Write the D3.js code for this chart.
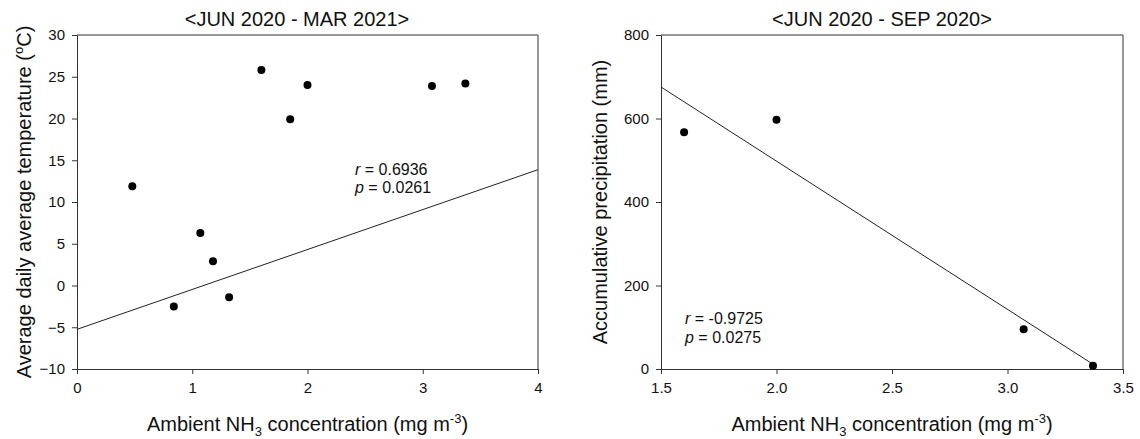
<!DOCTYPE html>
<html>
<head>
<meta charset="utf-8">
<script src="https://cdn.jsdelivr.net/npm/d3@7"></script>
<style>
  body { margin: 0; background: #fff; }
  text { font-family: "Liberation Sans", Arial, sans-serif; fill: #111; }
</style>
</head>
<body>
<script>
// left panel: NH3 vs temperature, JUN 2020 - MAR 2021
var nh3Temp = [0.48, 0.84, 1.07, 1.18, 1.32, 1.60, 1.85, 2.00, 3.08, 3.37];
var tempVals = [11.9, -2.5, 6.3, 2.9, -1.4, 25.8, 19.9, 24.0, 23.9, 24.2];
var fitTemp = [-5.25, 4.78]; // intercept, slope as drawn
var tempXTicks = [0, 1, 2, 3, 4];
var tempYTicks = [-10, -5, 0, 5, 10, 15, 20, 25, 30];

// right panel: NH3 vs precipitation, JUN 2020 - SEP 2020
var nh3Rain = [1.60, 2.00, 3.07, 3.37];
var rainVals = [567, 597, 95, 8];
var rainXTicks = [1.5, 2.0, 2.5, 3.0, 3.5];
var rainYTicks = [0, 200, 400, 600, 800];

var W = 1140, H = 439;
var svg = d3.select("body").append("svg")
    .attr("width", W)
    .attr("height", H);

function panel(opt) {
  var x = d3.scaleLinear().domain(opt.xDomain).range([opt.left, opt.right]);
  var y = d3.scaleLinear().domain(opt.yDomain).range([369, 35]);
  var g = svg.append("g");

  var xa = g.append("g").attr("transform", "translate(0,369)")
      .call(d3.axisBottom(x).tickValues(opt.xTicks).tickSize(5).tickPadding(8).tickFormat(opt.xFmt));
  var ya = g.append("g").attr("transform", "translate(" + opt.left + ",0)")
      .call(d3.axisLeft(y).tickValues(opt.yTicks).tickSize(5).tickPadding(7).tickFormat(d3.format("d")));
  [xa, ya].forEach(function(a) {
    a.select(".domain").attr("stroke", "#333");
    a.selectAll(".tick line").attr("stroke", "#333");
    a.selectAll("text").style("font-size", "15px").attr("fill", "#111");
  });

  // top and right frame
  g.append("path")
    .attr("d", "M" + opt.left + ",35H" + opt.right + "V369")
    .attr("fill", "none").attr("stroke", "#333");

  // fit line
  var x0 = opt.lineX[0], x1 = opt.lineX[1];
  g.append("line")
    .attr("x1", x(x0)).attr("y1", y(opt.fit[0] + opt.fit[1] * x0))
    .attr("x2", x(x1)).attr("y2", y(opt.fit[0] + opt.fit[1] * x1))
    .attr("stroke", "#222").attr("stroke-width", 1);

  g.selectAll("circle.pt").data(opt.xs).enter().append("circle")
    .attr("cx", function(d) { return x(d); })
    .attr("cy", function(d, i) { return y(opt.ys[i]); })
    .attr("r", 4)
    .attr("fill", "#000");

  // title
  g.append("text").attr("x", opt.titleX).attr("y", 26)
    .attr("text-anchor", "middle").style("font-size", "20px").text(opt.title);

  // x label
  var xl = g.append("text").attr("x", (opt.left + opt.right) / 2).attr("y", 431)
    .attr("text-anchor", "middle").style("font-size", "20px");
  xl.append("tspan").text("Ambient NH");
  xl.append("tspan").attr("dy", 5).style("font-size", "13px").text("3");
  xl.append("tspan").attr("dy", -5).text(" concentration (mg m");
  xl.append("tspan").attr("dy", -8).style("font-size", "13px").text("-3");
  xl.append("tspan").attr("dy", 8).text(")");

  // y label
  var yl = g.append("text")
    .attr("transform", "translate(" + opt.yLabelX + ",202) rotate(-90)")
    .attr("text-anchor", "middle").style("font-size", "20px");
  opt.yLabel(yl);

  // stats
  var st = g.append("text").attr("x", opt.statX).attr("y", opt.statY).style("font-size", "16px");
  st.append("tspan").style("font-style", "italic").text("r");
  st.append("tspan").text(" = " + opt.r);
  var st2 = g.append("text").attr("x", opt.statX).attr("y", opt.statY + 18.5).style("font-size", "16px");
  st2.append("tspan").style("font-style", "italic").text("p");
  st2.append("tspan").text(" = " + opt.p);
}

panel({
  left: 77, right: 538,
  xDomain: [0, 4], yDomain: [-10, 30],
  xTicks: tempXTicks, yTicks: tempYTicks, xFmt: d3.format("d"),
  xs: nh3Temp, ys: tempVals,
  fit: fitTemp, lineX: [0, 4],
  title: "<JUN 2020 - MAR 2021>", titleX: 297,
  yLabelX: 31,
  yLabel: function(t) {
    t.append("tspan").text("Average daily average temperature (");
    t.append("tspan").attr("dy", -8).style("font-size", "13px").text("o");
    t.append("tspan").attr("dy", 8).text("C)");
  },
  statX: 355, statY: 174.5, r: "0.6936", p: "0.0261"
});

// least squares fit for the precipitation panel
var mx = d3.mean(nh3Rain), my = d3.mean(rainVals);
var sxy = d3.sum(nh3Rain, function(d, i) { return (d - mx) * (rainVals[i] - my); });
var sxx = d3.sum(nh3Rain, function(d) { return (d - mx) * (d - mx); });
var slope = sxy / sxx;

panel({
  left: 661, right: 1123,
  xDomain: [1.5, 3.5], yDomain: [0, 800],
  xTicks: rainXTicks, yTicks: rainYTicks, xFmt: d3.format(".1f"),
  xs: nh3Rain, ys: rainVals,
  fit: [my - slope * mx, slope], lineX: [1.5, d3.max(nh3Rain)],
  title: "<JUN 2020 - SEP 2020>", titleX: 882,
  yLabelX: 607,
  yLabel: function(t) { t.text("Accumulative precipitation (mm)"); },
  statX: 685, statY: 324, r: "-0.9725", p: "0.0275"
});
</script>
</body>
</html>
